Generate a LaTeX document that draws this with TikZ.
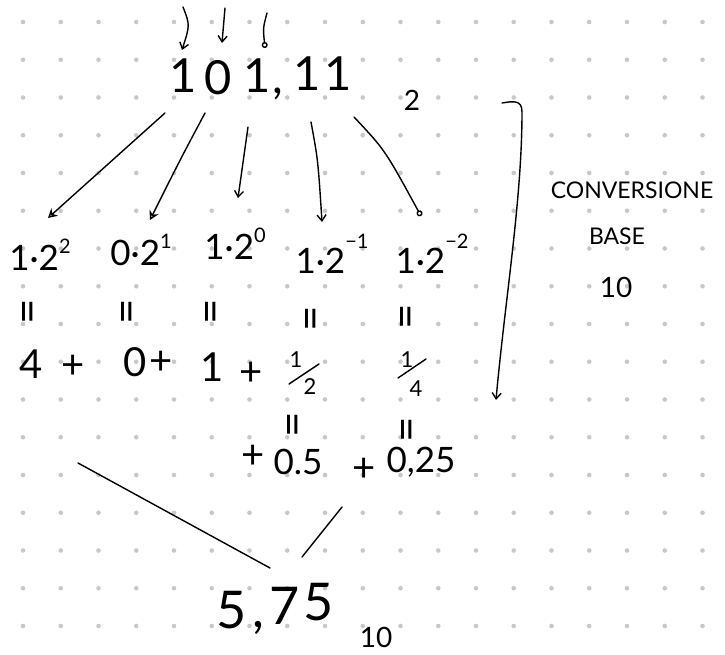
\documentclass[tikz,border=0pt]{standalone}
\usepackage{fontspec}
\setmainfont{Lato}
\usetikzlibrary{arrows.meta}
\definecolor{dotc}{RGB}{200,200,200}
\begin{document}
\begin{tikzpicture}[x=1pt,y=-1pt,
  ink/.style={draw=black,line width=1.4pt,line cap=round,line join=round},
  barb/.style={-{Straight Barb[length=6pt,width=9pt]}},
  obarb/.style={-{Stealth[open,length=9pt,width=10pt,inset=3pt]}},
  ring/.style={-{Circle[open,length=6pt,width=6pt]}},
  hw/.style={inner sep=0pt,text=black},
  big/.style={hw,font=\fontsize{47}{47}\selectfont},
  term/.style={hw,font=\fontsize{35}{35}\selectfont},
  row/.style={hw,font=\fontsize{40}{40}\selectfont},
  plus/.style={hw,font=\fontsize{40}{40}\selectfont},
  frac/.style={hw,font=\fontsize{22}{22}\selectfont},
  eq/.style={hw,rotate=90,font=\fontsize{44}{44}\selectfont},
  small/.style={hw,font=\fontsize{28}{28}\selectfont},
  note/.style={hw,font=\fontsize{23}{23}\selectfont}]
\useasboundingbox (0,0) rectangle (725,655);
\fill[white] (0,0) rectangle (725,655);
\foreach \i in {0,...,18}{\foreach \j in {0,...,16}{%
  \fill[dotc] ({23+37.75*\i},{22+37.75*\j}) circle[radius=2.3pt];}}
% binary number
\node[big] (d1) at (183,76) {1};
\node[big] (d2) at (218,78) {0};
\node[big] (d3) at (257,76) {1};
\node[big] (cm) at (278,94) {,};
\node[big] (d4) at (307,74) {1};
\node[big] (d5) at (338,74) {1};
\node[small] (b2) at (412,100) {2};
% top arrows
\coordinate (p1) at (183,7);  \coordinate (q1) at (182,50);
\coordinate (p2) at (225,8);  \coordinate (q2) at (222,43);
\coordinate (p3) at (267,13); \coordinate (q3) at (265,48);
\draw[ink,barb] (p1) .. controls (190,25) .. (q1);
\draw[ink,barb] (p2) -- (q2);
\draw[ink,ring] (p3) .. controls (263,28) .. (q3);
% terms
\node[term] (t1) at (40,255) {1·2\raisebox{.5em}{\fontsize{20}{20}\selectfont 2}};
\node[term] (t2) at (141,250) {0·2\raisebox{.5em}{\fontsize{20}{20}\selectfont 1}};
\node[term] (t3) at (235,244) {1·2\raisebox{.5em}{\fontsize{20}{20}\selectfont 0}};
\node[term] (t4) at (332,254) {1·2\raisebox{.7em}{\fontsize{20}{20}\selectfont −1}};
\node[term] (t5) at (432,254) {1·2\raisebox{.7em}{\fontsize{20}{20}\selectfont −2}};
% arrows to terms
\coordinate (s1) at (165,113); \coordinate (e1) at (48,218);
\coordinate (s2) at (205,113); \coordinate (e2) at (150,220);
\coordinate (s3) at (248,127); \coordinate (e3) at (238,198);
\coordinate (s4) at (311,122); \coordinate (e4) at (322,222);
\coordinate (s5) at (354,117); \coordinate (e5) at (421,216);
\draw[ink,obarb] (s1) -- (e1);
\draw[ink,obarb] (s2) .. controls (180,160) .. (e2);
\draw[ink,barb] (s3) -- (e3);
\draw[ink,barb] (s4) .. controls (318,160) .. (e4);
\draw[ink,ring] (s5) .. controls (385,150) .. (e5);
% equal signs
\node[eq] (q1a) at (33,312) {=};
\node[eq] (q2a) at (131,312) {=};
\node[eq] (q3a) at (215,312) {=};
\node[eq] (q4a) at (315,319) {=};
\node[eq] (q5a) at (410,317) {=};
% values
\node[row] (v1) at (31,364) {4};
\node[plus] (pl1) at (73,367) {+};
\node[row] (v2) at (135,362) {0};
\node[plus] (pl2) at (161,363) {+};
\node[row] (v3) at (212,367) {1};
\node[plus] (pl3) at (251,374) {+};
\node[frac] (n4) at (296,360) {1};
\node[frac] (m4) at (310,387) {2};
\draw[ink] (289,384) -- (319,364);
\node[frac] (n5) at (407,360) {1};
\node[frac] (m5) at (416,389) {4};
\draw[ink] (398,378) -- (426,359);
% decimals
\node[eq] (q6) at (297,425) {=};
\node[eq] (q7) at (411,430) {=};
\node[plus] (pl4) at (253,457) {+};
\node[term] (w1) at (298,462) {0.5};
\node[plus] (pl5) at (364,470) {+};
\node[term] (w2) at (421,462) {0,25};
% bracket arrow
\coordinate (k1) at (502,103); \coordinate (k2) at (496,400);
\draw[ink,barb] (k1) .. controls (514,101) and (522,100) .. (522,112)
   .. controls (522,200) and (505,300) .. (k2);
% note
\node[note] (c1) at (632,190) {CONVERSIONE};
\node[note] (c2) at (617,236) {BASE};
\node[note,font=\fontsize{28}{28}\selectfont] (c3) at (616,287) {10};
% lines to result
\coordinate (l1) at (78,463); \coordinate (l2) at (270,568);
\coordinate (m1) at (342,507); \coordinate (m2) at (302,557);
\draw[ink] (l1) -- (l2);
\draw[ink] (m1) -- (m2);
% result
\node[hw,font=\fontsize{52}{52}\selectfont] (r1) at (232,610) {5};
\node[hw,font=\fontsize{52}{52}\selectfont] (r2) at (258,628) {,};
\node[hw,font=\fontsize{52}{52}\selectfont] (r3) at (285,606) {7};
\node[hw,font=\fontsize{52}{52}\selectfont] (r4) at (319,602) {5};
\node[small] (r5) at (376,637) {10};
\end{tikzpicture}
\end{document}
